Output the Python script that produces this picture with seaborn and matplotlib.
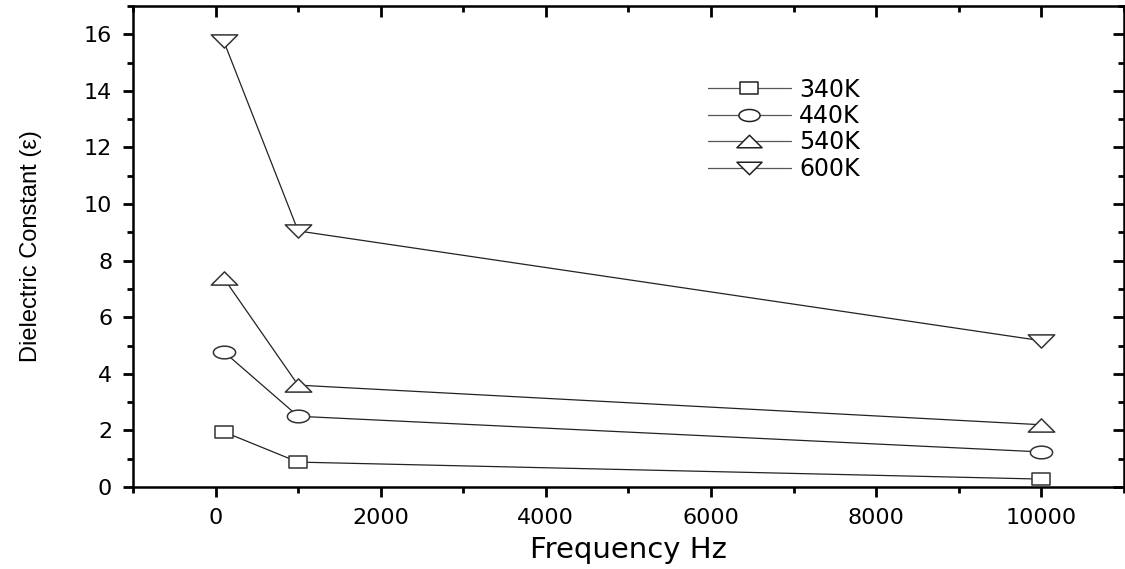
import matplotlib
matplotlib.use('Agg')
import matplotlib.pyplot as plt
from matplotlib.ticker import MultipleLocator
from matplotlib.path import Path
from matplotlib import font_manager
import numpy as np
import pandas as pd
import seaborn as sns

# data
freq = [100, 1000, 10000]
temps = ['340K', '440K', '540K', '600K']
eps_340 = [1.95, 0.88, 0.28]
eps_440 = [4.78, 2.50, 1.24]
eps_540 = [7.38, 3.60, 2.20]
eps_600 = [15.75, 9.05, 5.17]

rows = []
for t, vals in zip(temps, [eps_340, eps_440, eps_540, eps_600]):
    for f, v in zip(freq, vals):
        rows.append({'freq': f, 'eps': v, 'temp': t})
df = pd.DataFrame(rows)

# the original image is stretched sideways, so the markers are wide and flat
th = np.linspace(0, 2 * np.pi, 60)
ellipse = Path(np.column_stack([np.cos(th), 0.57 * np.sin(th)]), closed=True)
rect = Path([[-1, -0.66], [1, -0.66], [1, 0.66], [-1, 0.66], [-1, -0.66]], closed=True)
tri_up = Path([[-1, -0.5], [1, -0.5], [0, 0.5], [-1, -0.5]], closed=True)
tri_dn = Path([[-1, 0.5], [1, 0.5], [0, -0.5], [-1, 0.5]], closed=True)
markers = {'340K': rect, '440K': ellipse, '540K': tri_up, '600K': tri_dn}
msize = {'340K': 13.5, '440K': 16, '540K': 19, '600K': 19}

sns.set_style('ticks')
plt.rcParams['font.family'] = ['DejaVu Sans']
for k in ['text.color', 'axes.labelcolor', 'xtick.color', 'ytick.color', 'axes.edgecolor']:
    plt.rcParams[k] = 'black'

# narrow font for the y label if there is one
names = {f.name for f in font_manager.fontManager.ttflist}
ylab_font = 'Liberation Sans Narrow' if 'Liberation Sans Narrow' in names else 'Liberation Sans'

fig = plt.figure(figsize=(11.25, 5.69), dpi=100)
ax = fig.add_axes([0.1182, 0.1441, 0.8808, 0.8454])

sns.lineplot(data=df, x='freq', y='eps', hue='temp', style='temp',
             markers=markers, dashes=False, palette=['#222222'] * 4,
             linewidth=0.9, markersize=15, markerfacecolor='white',
             markeredgecolor='#333333', markeredgewidth=1.1, ax=ax)
for line, t in zip(ax.lines, temps):
    line.set_markersize(msize[t])

ax.set_xlim(-1000, 11000)
ax.set_ylim(0, 17)
ax.xaxis.set_major_locator(MultipleLocator(2000))
ax.xaxis.set_minor_locator(MultipleLocator(1000))
ax.yaxis.set_major_locator(MultipleLocator(2))
ax.yaxis.set_minor_locator(MultipleLocator(1))
ax.tick_params(which='both', direction='out', width=2, labelsize=16, top=False, right=False)
ax.tick_params(which='major', length=7, pad=8)
ax.tick_params(which='minor', length=4)
for s in ax.spines.values():
    s.set_linewidth(1.8)

# inward ticks on top and right like the original
top = ax.secondary_xaxis('top')
top.xaxis.set_major_locator(MultipleLocator(2000))
top.xaxis.set_minor_locator(MultipleLocator(1000))
top.tick_params(which='both', direction='in', width=2, labeltop=False)
top.tick_params(which='major', length=8)
top.tick_params(which='minor', length=4)
right = ax.secondary_yaxis('right')
right.yaxis.set_major_locator(MultipleLocator(2))
right.yaxis.set_minor_locator(MultipleLocator(1))
right.tick_params(which='both', direction='in', width=2, labelright=False)
right.tick_params(which='major', length=8)
right.tick_params(which='minor', length=4)

ax.set_xlabel('Frequency Hz', fontsize=21, labelpad=6)
ax.set_ylabel('Dielectric Constant (\u03b5)', fontsize=17, labelpad=30,
              family=[ylab_font, 'DejaVu Sans'])

leg = ax.legend(loc='upper left', bbox_to_anchor=(0.559, 0.895), frameon=False,
                fontsize=17, handlelength=3.5, labelspacing=0.1, handletextpad=0.35)
for h, t in zip(leg.legend_handles, temps):
    h.set_color('#555555')
    h.set_linewidth(0.9)
    h.set_markersize(msize[t] * 0.95)
    h.set_markerfacecolor('white')
    h.set_markeredgecolor('#222222')

fig.savefig('out.png', dpi=100)
